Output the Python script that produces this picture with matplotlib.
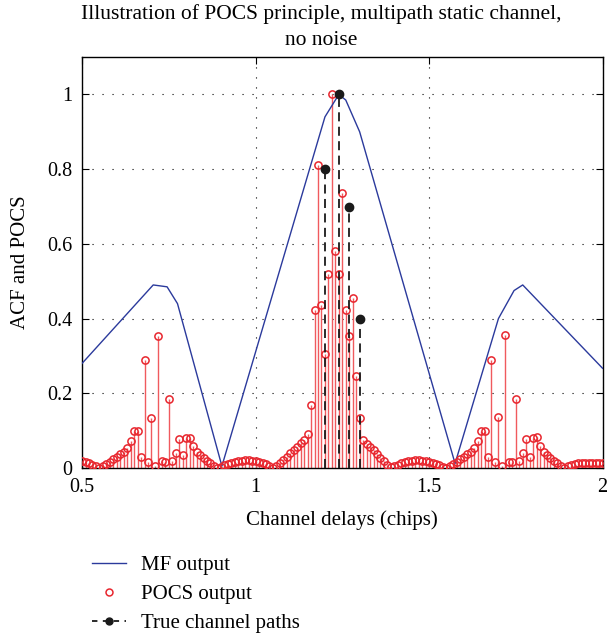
import numpy as np
import matplotlib.pyplot as plt
from matplotlib.lines import Line2D

plt.rcParams['font.family'] = ['Liberation Serif', 'DejaVu Serif']

# delay grid of the POCS estimate (chips)
delays = np.linspace(0.5, 2.0, 151)

# POCS output magnitude at each delay
pocs = [
    0.020, 0.017, 0.013, 0.009, 0.005, 0.001, 0.004, 0.010, 0.017, 0.023,
    0.030, 0.037, 0.044, 0.053, 0.073, 0.100, 0.100, 0.030, 0.289, 0.017,
    0.135, 0.005, 0.354, 0.019, 0.017, 0.185, 0.019, 0.041, 0.077, 0.035,
    0.080, 0.081, 0.060, 0.044, 0.035, 0.028, 0.020, 0.012, 0.006, 0.001,
    0.003, 0.007, 0.011, 0.014, 0.017, 0.019, 0.020, 0.021, 0.021, 0.020,
    0.019, 0.017, 0.014, 0.010, 0.006, 0.001, 0.006, 0.012, 0.021, 0.030,
    0.039, 0.048, 0.057, 0.066, 0.075, 0.091, 0.168, 0.422, 0.812, 0.436,
    0.306, 0.520, 1.000, 0.580, 0.520, 0.737, 0.424, 0.353, 0.454, 0.247,
    0.133, 0.075, 0.065, 0.056, 0.047, 0.038, 0.028, 0.018, 0.009, 0.002,
    0.005, 0.009, 0.013, 0.016, 0.018, 0.020, 0.021, 0.021, 0.020, 0.019,
    0.017, 0.014, 0.011, 0.007, 0.003, 0.001, 0.004, 0.010, 0.017, 0.023,
    0.030, 0.037, 0.044, 0.053, 0.073, 0.100, 0.100, 0.030, 0.289, 0.017,
    0.136, 0.005, 0.355, 0.017, 0.015, 0.185, 0.019, 0.041, 0.078, 0.030,
    0.080, 0.082, 0.060, 0.044, 0.035, 0.026, 0.019, 0.013, 0.006, 0.001,
    0.004, 0.008, 0.011, 0.012, 0.013, 0.013, 0.013, 0.013, 0.013, 0.013,
    0.013,
]

# matched filter output (coarsely sampled)
mf_x = [0.5, 0.705, 0.745, 0.775, 0.903, 1.20, 1.24, 1.26, 1.30, 1.575,
        1.70, 1.745, 1.77, 2.0]
mf_y = [0.28, 0.49, 0.485, 0.44, 0.005, 0.94, 1.0, 0.985, 0.90, 0.012,
        0.40, 0.475, 0.49, 0.267]

# true multipath channel
path_delay = [1.20, 1.24, 1.27, 1.30]
path_gain = [0.8, 1.0, 0.7, 0.4]

blue = '#2b3a9c'
red = '#e8262e'
stem_red = '#f05a5e'
black = '#1a1a1a'

fig = plt.figure(figsize=(6.08, 6.38), dpi=100)
ax = fig.add_axes([0.135, 0.2665, 0.856, 0.644])

ax.plot(mf_x, mf_y, color=blue, lw=1.0, zorder=3)

ax.vlines(delays, 0, pocs, color=stem_red, lw=1.0, zorder=2)
ax.plot(delays, pocs, 'o', ms=5.2, mfc='none', mec=red, mew=1.1, zorder=4)

ax.vlines(path_delay, 0, path_gain, color=black, lw=1.3,
          linestyles=(0, (5, 3)), zorder=5)
ax.plot(path_delay, path_gain, 'o', ms=6, color=black, zorder=6)

ax.set_xlim(0.5, 2.0)
ax.set_ylim(0, 1.1)
ax.set_xticks([0.5, 1, 1.5, 2])
ax.set_xticklabels(['0.5', '1', '1.5', '2'])
ax.set_yticks([0, 0.2, 0.4, 0.6, 0.8, 1])
ax.set_yticklabels(['0', '0.2', '0.4', '0.6', '0.8', '1'])
ax.tick_params(direction='in', length=5, width=0.8, top=True, right=True,
               labelsize=14.5, pad=7)
ax.grid(True, color='k', lw=0.8, linestyle=(0, (1, 8)))
for s in ax.spines.values():
    s.set_linewidth(1.0)

ax.set_title('Illustration of POCS principle, multipath static channel,\nno noise',
             fontsize=15.5, linespacing=1.45, pad=9, x=0.46)
ax.set_xlabel('Channel delays (chips)', fontsize=15, labelpad=10)
ax.set_ylabel('ACF and POCS', fontsize=15, labelpad=12)

handles = [
    Line2D([], [], color=blue, lw=1.0),
    Line2D([], [], ls='none', marker='o', ms=5, mfc='none', mec=red, mew=1.1),
    Line2D([], [], color=black, lw=1.3, ls=(0, (3, 3)), marker='o', ms=5),
]
fig.legend(handles, ['MF output', 'POCS output', 'True channel paths'],
           loc='upper left', bbox_to_anchor=(0.138, 0.142), frameon=False,
           fontsize=15, handlelength=1.6, handletextpad=0.75,
           labelspacing=0.45, borderaxespad=0)

fig.savefig('out.png', dpi=100)
